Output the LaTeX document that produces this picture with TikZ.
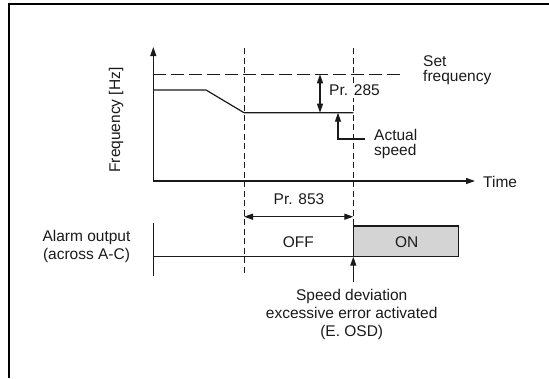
\documentclass[tikz,border=0pt]{standalone}
\usepackage{fontspec}
\setmainfont{Liberation Sans}
\usetikzlibrary{arrows.meta}
\definecolor{onfill}{HTML}{D4D4D4}
\definecolor{ink}{HTML}{1A1A1A}
\begin{document}
\begin{tikzpicture}[x=1pt,y=-1pt,
  ink/.style={draw=ink,line width=1.2pt},
  vdash/.style={draw=ink,line width=1pt,dash pattern=on 6pt off 3.5pt},
  hdash/.style={draw=ink,line width=1pt,dash pattern=on 13pt off 5pt},
  tip/.style={-{Triangle[length=9pt,width=6pt]}},
  dtip/.style={{Triangle[length=9pt,width=6pt]}-{Triangle[length=9pt,width=6pt]}},
  lbl/.style={inner sep=0pt,text=ink,font=\fontsize{15.5}{15}\selectfont},
  lbl2/.style={inner sep=0pt,text=ink,font=\fontsize{15.5}{18}\selectfont}]
\useasboundingbox (0,0) rectangle (549,378);
% frame
\draw[line width=1.8pt,black] (8.8,378) -- (8.8,3.8) -- (549,3.8);
% coordinates
\coordinate (o) at (153.3,181);
\coordinate (ytop) at (153.3,47);
\coordinate (xend) at (475,181);
\coordinate (f0) at (153.3,90);
\coordinate (f1) at (206,90);
\coordinate (f2) at (244,112.7);
\coordinate (f3) at (353.3,112.7);
\coordinate (s0) at (153.3,74.3);
\coordinate (s1) at (403,74.3);
\coordinate (d1t) at (244,48);
\coordinate (d1b) at (244,276);
\coordinate (d2t) at (353.3,48);
\coordinate (d2b) at (353.3,226);
\coordinate (p1) at (320,74.3);
\coordinate (p2) at (320,112.7);
\coordinate (a0) at (365,139);
\coordinate (a1) at (338,139);
\coordinate (a2) at (338,112.7);
\coordinate (q1) at (244,216.7);
\coordinate (q2) at (353.3,216.7);
\coordinate (al0) at (153.3,223);
\coordinate (al1) at (153.3,276);
\coordinate (b0) at (153.3,256.7);
\coordinate (b1) at (353.3,256.7);
\coordinate (on1) at (353.3,226);
\coordinate (on2) at (458.3,226);
\coordinate (on3) at (458.3,256.7);
\coordinate (e0) at (353.3,282);
% dashed verticals
\draw[vdash] (d1t) -- (d1b);
\draw[vdash] (d2t) -- (d2b);
% set frequency
\draw[hdash] (s0) -- (s1);
% axes
\draw[ink,tip] (o) -- (ytop);
\draw[ink,tip] (o) -- (xend);
% frequency curve
\draw[ink,line join=round] (f0) -- (f1) -- (f2) -- (f3);
% Pr.285
\draw[ink,dtip] (p1) -- (p2);
% actual speed leader
\draw[ink,tip] (a0) -- (a1) -- (a2);
% Pr.853
\draw[ink,dtip] (q1) -- (q2);
% alarm
\draw[ink] (al0) -- (al1);
\filldraw[ink,fill=onfill] (b1) -- (on1) -- (on2) -- (on3) -- cycle;
\draw[ink] (b0) -- (b1);
\draw[ink,tip] (e0) -- (b1);
% labels
\node[lbl,rotate=90] (fhz) at (116,120) {Frequency [Hz]};
\node[lbl,anchor=west] (time) at (483,181.5) {Time};
\node[lbl,anchor=west,align=left] (setf) at (423,70.5) {Set\\frequency};
\node[lbl,anchor=west,align=left] (act) at (374,144.2) {Actual\\speed};
\node[lbl,anchor=west,fill=white,inner xsep=1pt,inner ysep=2pt] (pr285) at (328,90.5) {Pr. 285};
\node[lbl] (pr853) at (299,199.5) {Pr. 853};
\node[lbl] (off) at (298.3,242) {OFF};
\node[lbl] (on) at (406.7,242) {ON};
\node[lbl2,align=center] (alarm) at (86.5,246) {Alarm output\\(across A-C)};
\node[lbl2,align=center] (sdev) at (351.7,314.5) {Speed deviation\\excessive error activated\\(E. OSD)};
\end{tikzpicture}
\end{document}
